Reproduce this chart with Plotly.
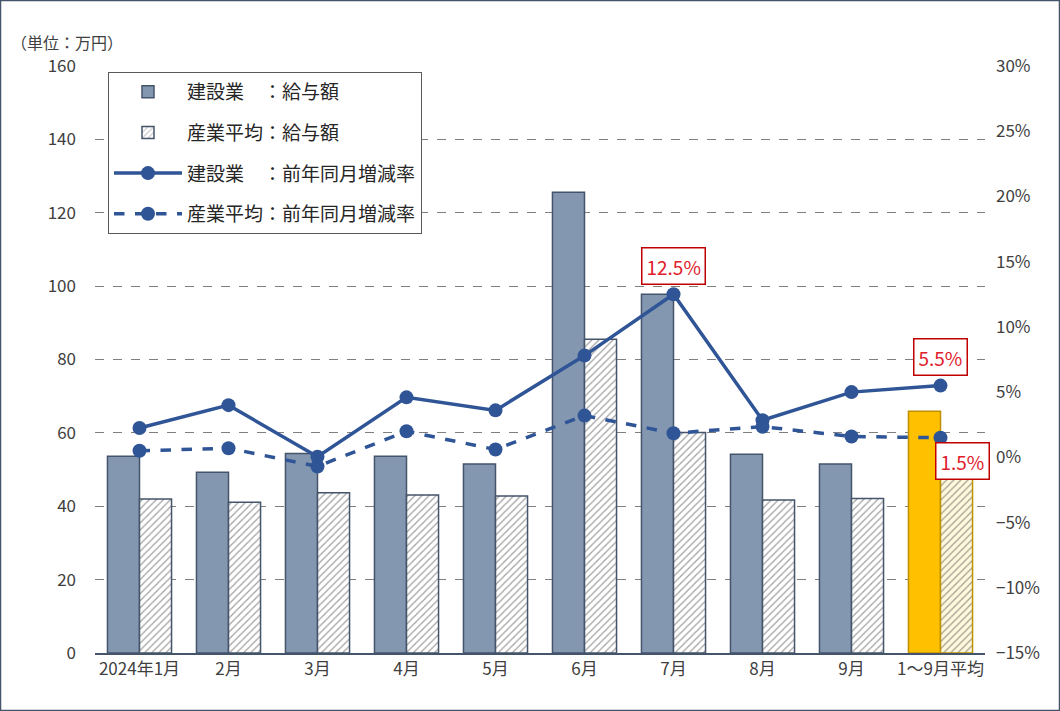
import plotly.graph_objects as go

categories = ["2024年1月", "2月", "3月", "4月", "5月", "6月", "7月", "8月", "9月", "1～9月平均"]
construction_pay = [53.6, 49.3, 54.4, 53.6, 51.5, 125.6, 97.8, 54.2, 51.5, 65.9]
industry_pay = [42.0, 41.1, 43.7, 43.1, 42.8, 85.5, 60.1, 41.7, 42.1, 48.5]
construction_rate = [2.25, 4.0, 0.05, 4.6, 3.6, 7.8, 12.5, 2.85, 5.0, 5.5]
industry_rate = [0.5, 0.7, -0.7, 2.0, 0.6, 3.2, 1.85, 2.35, 1.6, 1.5]

FONT = "Noto Sans CJK JP"
TXT = "#404040"
LINE = "#2F5597"
n = len(categories)

c_fill = ["#8497B0"] * (n - 1) + ["#FFC000"]
c_edge = ["#44546A"] * (n - 1) + ["#BF9000"]
i_fg = ["#808080"] * (n - 1) + ["#E0B000"]
i_bg = ["#FFFFFF"] * (n - 1) + ["#FFF8DC"]
i_edge = ["#44546A"] * (n - 1) + ["#BF9000"]

fig = go.Figure()
fig.add_trace(go.Bar(
    x=categories, y=construction_pay, name="建設業　：給与額",
    marker=dict(color=c_fill, line=dict(color=c_edge, width=1.5)),
    legendgroup="a", yaxis="y"))
fig.add_trace(go.Bar(
    x=categories, y=industry_pay, name="産業平均：給与額",
    marker=dict(color=i_bg, line=dict(color=i_edge, width=1.5),
                pattern=dict(shape="/", fgcolor=i_fg, bgcolor=i_bg, size=5, solidity=0.25, fillmode="overlay")),
    legendgroup="b", yaxis="y"))
fig.add_trace(go.Scatter(
    x=categories, y=construction_rate, name="建設業　：前年同月増減率",
    mode="lines+markers", line=dict(color=LINE, width=3.5),
    marker=dict(size=14, color=LINE), legendgroup="c", yaxis="y2"))
fig.add_trace(go.Scatter(
    x=categories, y=industry_rate, name="産業平均：前年同月増減率",
    mode="lines+markers", line=dict(color=LINE, width=3.5, dash="dash"),
    marker=dict(size=14, color=LINE), legendgroup="d", yaxis="y2"))

ann_style = dict(font=dict(family=FONT, size=19, color="#E0202A"), bordercolor="#C00000",
                 borderwidth=1.5, borderpad=4, bgcolor="white", showarrow=False, xref="x", yref="y2")
fig.add_annotation(x=categories[6], y=14.7, text="12.5%", **ann_style)
fig.add_annotation(x=categories[9], y=7.7, text="5.5%", **ann_style)
fig.add_annotation(x=categories[9], y=-0.25, text="1.5%", xshift=22, **ann_style)
fig.add_annotation(x=-0.097, y=1 + 24 / 587, xref="paper", yref="paper", yanchor="middle", xanchor="left",
                   text="（単位：万円）", showarrow=False,
                   font=dict(family=FONT, size=16, color=TXT))

fig.update_layout(
    width=1060, height=711,
    margin=dict(l=95, r=75, t=66, b=58, autoexpand=False),
    paper_bgcolor="white", plot_bgcolor="white",
    font=dict(family=FONT, size=16, color=TXT),
    barmode="group", bargap=0.28, bargroupgap=0,
    showlegend=True,
    legend=dict(x=0.0146, y=0.99, xanchor="left", yanchor="top",
                bordercolor="#595959", borderwidth=1, bgcolor="white",
                traceorder="grouped", tracegroupgap=13, itemwidth=68,
                font=dict(family=FONT, size=19, color="#262626")),
    xaxis=dict(range=[-0.5, n - 0.5], showline=True, linecolor="#44546A", linewidth=2, ticks="",
               showgrid=False, automargin=False, tickfont=dict(size=17, color=TXT)),
    yaxis=dict(range=[0, 160], dtick=20, showgrid=True, gridcolor="#7F7F7F", griddash="dash",
               gridwidth=1, zeroline=False, ticks="", ticklabelstandoff=18, automargin=False,
               tickfont=dict(size=17, color=TXT)),
    yaxis2=dict(range=[-15, 30], dtick=5, overlaying="y", side="right", showgrid=False,
                zeroline=False, ticksuffix="%", ticks="", ticklabelstandoff=10, automargin=False,
                tickfont=dict(size=17, color=TXT)),
    shapes=[dict(type="rect", xref="paper", yref="paper", x0=-94.5/890, x1=1 + 74.5/890,
                 y0=-57.5/587, y1=1 + 65.5/587, line=dict(color="#44546A", width=1.5))],
)

fig.write_html("out.html")
